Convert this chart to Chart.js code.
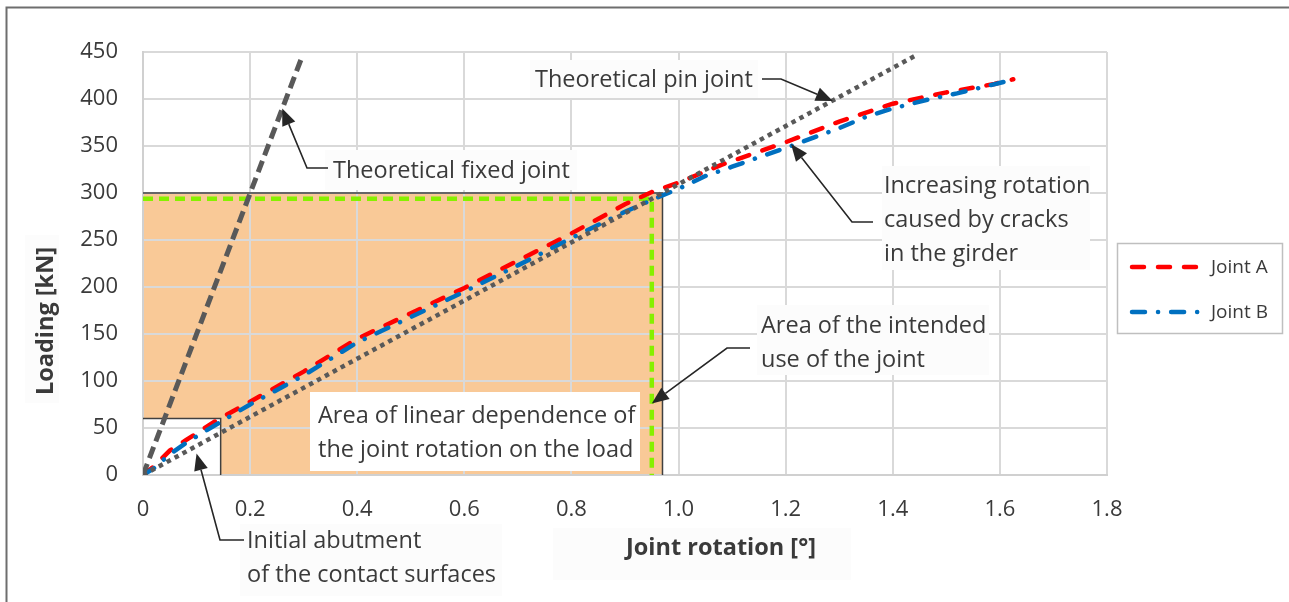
<!DOCTYPE html>
<html><head><meta charset="utf-8">
<script src="https://cdn.jsdelivr.net/npm/chart.js@4.4.0/dist/chart.umd.min.js"></script>
<style>html,body{margin:0;padding:0;background:#fff;}canvas{display:block}</style>
</head><body>
<canvas id="c" width="1289" height="602"></canvas>
<script>
// ---------- data ----------
const xTicks = [0, 0.2, 0.4, 0.6, 0.8, 1.0, 1.2, 1.4, 1.6, 1.8];
const yTicks = [0, 50, 100, 150, 200, 250, 300, 350, 400, 450];

const jointA_x = [0, 0.02, 0.05, 0.08, 0.11, 0.14, 0.2, 0.3, 0.4, 0.5, 0.6, 0.7, 0.8, 0.9, 0.95, 1.0, 1.08, 1.2, 1.3, 1.4, 1.5, 1.59, 1.625];
const jointA_y = [0, 9, 26, 37, 48, 59, 78, 110, 145, 172, 199, 228, 257, 288, 301, 311, 330, 354, 376, 395, 407, 416, 421];

const jointB_x = [0, 0.02, 0.05, 0.08, 0.12, 0.17, 0.2, 0.3, 0.4, 0.5, 0.6, 0.7, 0.8, 0.9, 0.96, 1.01, 1.05, 1.1, 1.21, 1.3, 1.35, 1.4, 1.47, 1.52, 1.613];
const jointB_y = [0, 7, 22, 34, 48, 65, 75, 106, 141, 168, 195, 223, 252, 280, 295, 307, 318, 328, 350, 369, 381, 390, 400, 406, 419];

const fixedJoint_x = [0, 0.297];
const fixedJoint_y = [0, 445];
const pinJoint_x = [0, 1.445];
const pinJoint_y = [0, 447];

const linearArea_x = [0, 0.97, 0.97];
const linearArea_y = [300, 300, 0];
const intendedUse_x = [0, 0.95, 0.95];
const intendedUse_y = [294, 294, 0];
const initialBox_x = [0, 0.145, 0.145];
const initialBox_y = [60, 60, 0];

const seriesNames = ['Joint A', 'Joint B'];

// ---------- helpers ----------
const pts = (xs, ys) => xs.map((x, i) => ({x: x, y: ys[i]}));
const TXT = '#3a3a3a';
const FONT = '"Open Sans", "DejaVu Sans", sans-serif';

const base = {showLine: true, pointRadius: 0, tension: 0, fill: false};

const datasets = [
  Object.assign({}, base, {label: 'initial', data: pts(initialBox_x, initialBox_y), borderColor: '#404040', borderWidth: 1.5, fill: 'origin', backgroundColor: '#ffffff', order: 6, inLegend: false}),
  Object.assign({}, base, {label: 'linear', data: pts(linearArea_x, linearArea_y), borderColor: '#404040', borderWidth: 1.5, fill: 'origin', backgroundColor: '#f9c997', order: 7, inLegend: false}),
  Object.assign({}, base, {label: 'intended', data: pts(intendedUse_x, intendedUse_y), borderColor: '#86f000', borderWidth: 4.5, borderDash: [10, 6], order: 5, inLegend: false}),
  Object.assign({}, base, {label: seriesNames[0], data: pts(jointA_x, jointA_y), borderColor: '#ff0000', borderWidth: 4.5, borderDash: [12, 14], borderCapStyle: 'round', order: 4, inLegend: true}),
  Object.assign({}, base, {label: seriesNames[1], data: pts(jointB_x, jointB_y), borderColor: '#0070c0', borderWidth: 4.5, borderDash: [13, 13, 0.1, 13], borderCapStyle: 'round', order: 3, inLegend: true}),
  Object.assign({}, base, {label: 'fixed', data: pts(fixedJoint_x, fixedJoint_y), borderColor: '#595959', borderWidth: 5, borderDash: [12, 6], order: 2, inLegend: false}),
  Object.assign({}, base, {label: 'pin', data: pts(pinJoint_x, pinJoint_y), borderColor: '#595959', borderWidth: 4.5, borderDash: [4.5, 4.5], order: 1, inLegend: false})
];

// annotation layout (pixels for text & elbows, data coords for arrow tips)
const annotations = [
  {lines: ['Theoretical fixed joint'], x: 333, y: 178, box: [325, 150, 252, 40], path: [[328, 168], [307, 168]], tip: [0.26, 390]},
  {lines: ['Theoretical pin joint'], x: 535, y: 87, box: [530, 60, 228, 38], path: [[762, 79], [781, 79]], tip: [1.288, 398]},
  {lines: ['Increasing rotation', 'caused by cracks', 'in the girder'], x: 884, y: 193, box: [882, 166, 208, 104], path: [[873, 222], [852, 222]], tip: [1.21, 352]},
  {lines: ['Area of the intended', 'use of the joint'], x: 761, y: 333, box: [757, 305, 232, 70], path: [[750, 348], [727, 348]], tip: [0.95, 76]},
  {lines: ['Area of linear dependence of', 'the joint rotation on the load'], x: 318, y: 423, box: [310, 392, 330, 79], bg: '#ffffff'},
  {lines: ['Initial abutment', 'of the contact surfaces'], x: 247, y: 548, box: [240, 524, 262, 72], path: [[244, 540], [220, 540]], tip: [0.10, 23]}
];

const deco = {
  id: 'deco',
  afterDraw(chart) {
    const ctx = chart.ctx;
    const xs = chart.scales.x, ys = chart.scales.y;
    ctx.save();
    // outer frame (top & left)
    ctx.strokeStyle = '#6e6e6e'; ctx.lineWidth = 2;
    ctx.beginPath(); ctx.moveTo(6.5, 602); ctx.lineTo(6.5, 7.5); ctx.lineTo(1289, 7.5); ctx.stroke();

    // annotations
    ctx.font = '23.5px ' + FONT;
    ctx.textBaseline = 'alphabetic';
    annotations.forEach(a => {
      ctx.fillStyle = a.bg || '#fcfcfc';
      ctx.fillRect(a.box[0], a.box[1], a.box[2], a.box[3]);
      ctx.fillStyle = TXT; ctx.textAlign = 'left';
      a.lines.forEach((l, i) => ctx.fillText(l, a.x, a.y + i * 34));
      if (a.path) {
        const tx = xs.getPixelForValue(a.tip[0]), ty = ys.getPixelForValue(a.tip[1]);
        const p = a.path;
        const last = p[p.length - 1];
        const ang = Math.atan2(ty - last[1], tx - last[0]);
        const hl = 17, hw = 7;
        const bx = tx - Math.cos(ang) * hl, by = ty - Math.sin(ang) * hl;
        ctx.strokeStyle = '#262626'; ctx.lineWidth = 1.6;
        ctx.beginPath(); ctx.moveTo(p[0][0], p[0][1]);
        for (let i = 1; i < p.length; i++) ctx.lineTo(p[i][0], p[i][1]);
        ctx.lineTo(bx, by); ctx.stroke();
        ctx.fillStyle = '#262626';
        ctx.beginPath(); ctx.moveTo(tx, ty);
        ctx.lineTo(bx - Math.sin(ang) * hw, by + Math.cos(ang) * hw);
        ctx.lineTo(bx + Math.sin(ang) * hw, by - Math.cos(ang) * hw);
        ctx.closePath(); ctx.fill();
      }
    });

    // axis titles
    ctx.fillStyle = '#fcfcfc';
    ctx.fillRect(553, 528, 298, 52);
    ctx.fillRect(25, 235, 34, 168);
    ctx.fillStyle = TXT; ctx.font = 'bold 23.5px ' + FONT;
    ctx.textAlign = 'center';
    ctx.fillText('Joint rotation [°]', 721, 555);
    ctx.save(); ctx.translate(53, 321); ctx.rotate(-Math.PI / 2);
    ctx.fillText('Loading [kN]', 0, 0); ctx.restore();

    // legend
    ctx.strokeStyle = '#bfbfbf'; ctx.lineWidth = 1.5;
    ctx.strokeRect(1117.5, 243.5, 165, 90);
    ctx.font = '19px ' + FONT; ctx.textAlign = 'left'; ctx.textBaseline = 'middle';
    const items = chart.data.datasets.filter(d => d.inLegend);
    items.forEach((d, i) => {
      const y = 267 + i * 45;
      ctx.strokeStyle = d.borderColor; ctx.lineWidth = d.borderWidth;
      ctx.lineCap = d.borderCapStyle || 'butt';
      ctx.setLineDash(d.borderDash || []);
      ctx.beginPath(); ctx.moveTo(1132, y); ctx.lineTo(1205, y); ctx.stroke();
      ctx.setLineDash([]);
      ctx.fillStyle = TXT; ctx.fillText(d.label, 1211, y + 1);
    });
    ctx.restore();
  }
};

new Chart(document.getElementById('c'), {
  type: 'scatter',
  data: {datasets: datasets},
  plugins: [deco],
  options: {
    responsive: false, animation: false, devicePixelRatio: 1,
    layout: {padding: {left: 43, right: 182, top: 52, bottom: 67}},
    plugins: {legend: {display: false}, tooltip: {enabled: false}, filler: {drawTime: 'beforeDraw'}},
    scales: {
      x: {
        type: 'linear', min: 0, max: 1.8,
        afterBuildTicks: s => { s.ticks = xTicks.map(v => ({value: v})); },
        afterFit: s => { s.height = 60; },
        grid: {color: '#d9d9d9', lineWidth: 2, drawTicks: false},
        border: {color: '#d0d0d0', width: 2},
        ticks: {padding: 22, color: TXT, font: {family: FONT, size: 22}, maxRotation: 0,
          callback: v => (v === 0 ? '0' : Number(v).toFixed(1))}
      },
      y: {
        type: 'linear', min: 0, max: 450,
        afterBuildTicks: s => { s.ticks = yTicks.map(v => ({value: v})); },
        afterFit: s => { s.width = 100; },
        grid: {color: '#d9d9d9', lineWidth: 2, drawTicks: false},
        border: {color: '#d0d0d0', width: 2},
        ticks: {padding: 25, color: TXT, font: {family: FONT, size: 22}, callback: v => String(v)}
      }
    }
  }
});
</script>
</body></html>
